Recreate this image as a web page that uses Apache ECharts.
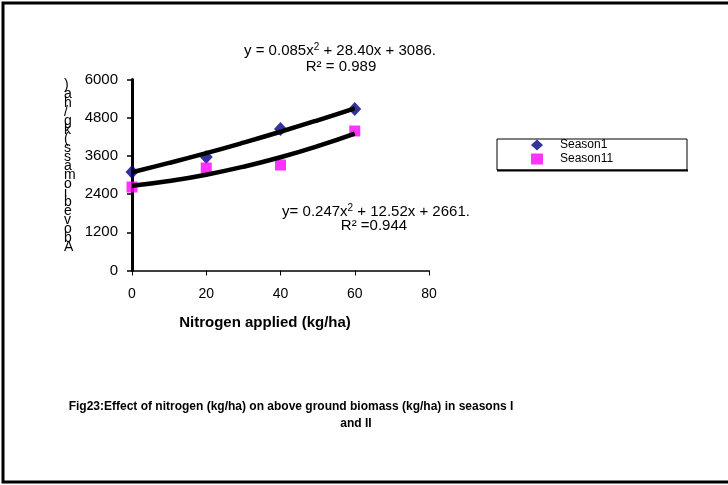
<!DOCTYPE html>
<html><head><meta charset="utf-8">
<script src="https://cdn.jsdelivr.net/npm/echarts@6/dist/echarts.min.js"></script>
<style>html,body{margin:0;padding:0;background:#fff}#c{width:728px;height:485px}</style>
</head><body><div id="c"></div>
<script>
const nitrogen = [0, 20, 40, 60];
const season1 = [3094, 3565, 4445, 5073];
const season11 = [2623, 3220, 3314, 4382];
const trendX = [0, 10, 20, 30, 40, 50, 60];
const trend1 = [3086, 3379, 3688, 4015, 4358, 4719, 5096];
const trend11 = [2661, 2811, 3010, 3259, 3557, 3905, 4301];
const yTicks = [0, 1200, 2400, 3600, 4800, 6000];
const xTicks = [0, 20, 40, 60, 80];
const yTitle = 'Above biomass (kg/ha)'.replace(/ /g, '');

const F = '"Liberation Sans", Arial, sans-serif';
const chart = echarts.init(document.getElementById('c'), null, {renderer: 'canvas'});
const pair = (xs, ys) => xs.map((x, i) => [x, ys[i]]);

const eqRich = {
  n: {fontSize: 15, fontFamily: F, color: '#000'},
  sup: {fontSize: 10, fontFamily: F, color: '#000', verticalAlign: 'top', padding: [0, 0, 7, 0]}
};

chart.setOption({
  animation: false,
  backgroundColor: '#fff',
  grid: {left: 132, right: 299, top: 79.5, bottom: 214.5, containLabel: false},
  xAxis: {
    type: 'value', min: xTicks[0], max: xTicks[xTicks.length - 1], interval: 20,
    axisLine: {lineStyle: {color: '#000', width: 1.5}},
    axisTick: {show: true, length: 5, inside: false, lineStyle: {color: '#000', width: 1}},
    axisLabel: {color: '#000', fontSize: 14, fontFamily: F, margin: 17},
    splitLine: {show: false}
  },
  yAxis: {
    type: 'value', min: yTicks[0], max: yTicks[yTicks.length - 1], interval: 1200,
    axisLine: {show: true, lineStyle: {color: '#000', width: 3}},
    axisTick: {show: true, length: 5, lineStyle: {color: '#000', width: 1.5}},
    axisLabel: {color: '#000', fontSize: 15, fontFamily: F, margin: 14, formatter: v => String(v)},
    splitLine: {show: false}
  },
  legend: {
    data: ['Season1', 'Season11'],
    orient: 'vertical', left: 531, top: 139,
    itemGap: 2, itemWidth: 12, itemHeight: 11,
    textStyle: {color: '#000', fontSize: 12, fontFamily: F, padding: [0, 0, 0, 12]},
    padding: 0
  },
  series: [
    {name: 'trend1', type: 'line', data: pair(trendX, trend1), smooth: true, symbol: 'none',
     lineStyle: {color: '#000', width: 4.5}, z: 3, silent: true},
    {name: 'trend11', type: 'line', data: pair(trendX, trend11), smooth: true, symbol: 'none',
     lineStyle: {color: '#000', width: 4.5}, z: 3, silent: true},
    {name: 'Season1', type: 'scatter', data: pair(nitrogen, season1), symbol: 'diamond', symbolSize: [13, 14],
     itemStyle: {color: '#000080'}, z: 2},
    {name: 'Season11', type: 'scatter', data: pair(nitrogen, season11), symbol: 'rect', symbolSize: 11,
     itemStyle: {color: '#FF00FF'}, z: 2}
  ],
  graphic: [
    {type: 'rect', shape: {x: 3, y: 3, width: 740, height: 479}, style: {fill: 'none', stroke: '#000', lineWidth: 3}, z: 10},
    {type: 'rect', shape: {x: 497, y: 139, width: 190, height: 31}, style: {fill: 'none', stroke: '#000', lineWidth: 1}, z: -1},
    {type: 'line', shape: {x1: 497, y1: 170.5, x2: 688, y2: 170.5}, style: {stroke: '#000', lineWidth: 2}},
    {type: 'text', left: 64, top: 78, style: {text: yTitle.split('').reverse().join('\n'), font: '14px ' + F, fill: '#000', lineHeight: 9, align: 'center'}},
    {type: 'text', x: 340, y: 51, style: {text: '{n|y = 0.085x}{sup|2}{n| + 28.40x + 3086.}', rich: eqRich, align: 'center', verticalAlign: 'middle'}},
    {type: 'text', x: 341, y: 67, style: {text: 'R² = 0.989', font: '15px ' + F, fill: '#000', align: 'center', verticalAlign: 'middle'}},
    {type: 'text', x: 376, y: 212, style: {text: '{n|y= 0.247x}{sup|2}{n| + 12.52x + 2661.}', rich: eqRich, align: 'center', verticalAlign: 'middle'}},
    {type: 'text', x: 374, y: 226, style: {text: 'R² =0.944', font: '15px ' + F, fill: '#000', align: 'center', verticalAlign: 'middle'}},
    {type: 'text', x: 265, y: 323, style: {text: 'Nitrogen applied (kg/ha)', font: 'bold 15px ' + F, fill: '#000', align: 'center', verticalAlign: 'middle'}},
    {type: 'text', x: 291, y: 407, style: {text: 'Fig23:Effect of nitrogen (kg/ha) on above ground biomass (kg/ha) in seasons I', font: 'bold 12px ' + F, fill: '#000', align: 'center', verticalAlign: 'middle'}},
    {type: 'text', x: 356, y: 424, style: {text: 'and II', font: 'bold 12px ' + F, fill: '#000', align: 'center', verticalAlign: 'middle'}}
  ]
});
</script></body></html>
